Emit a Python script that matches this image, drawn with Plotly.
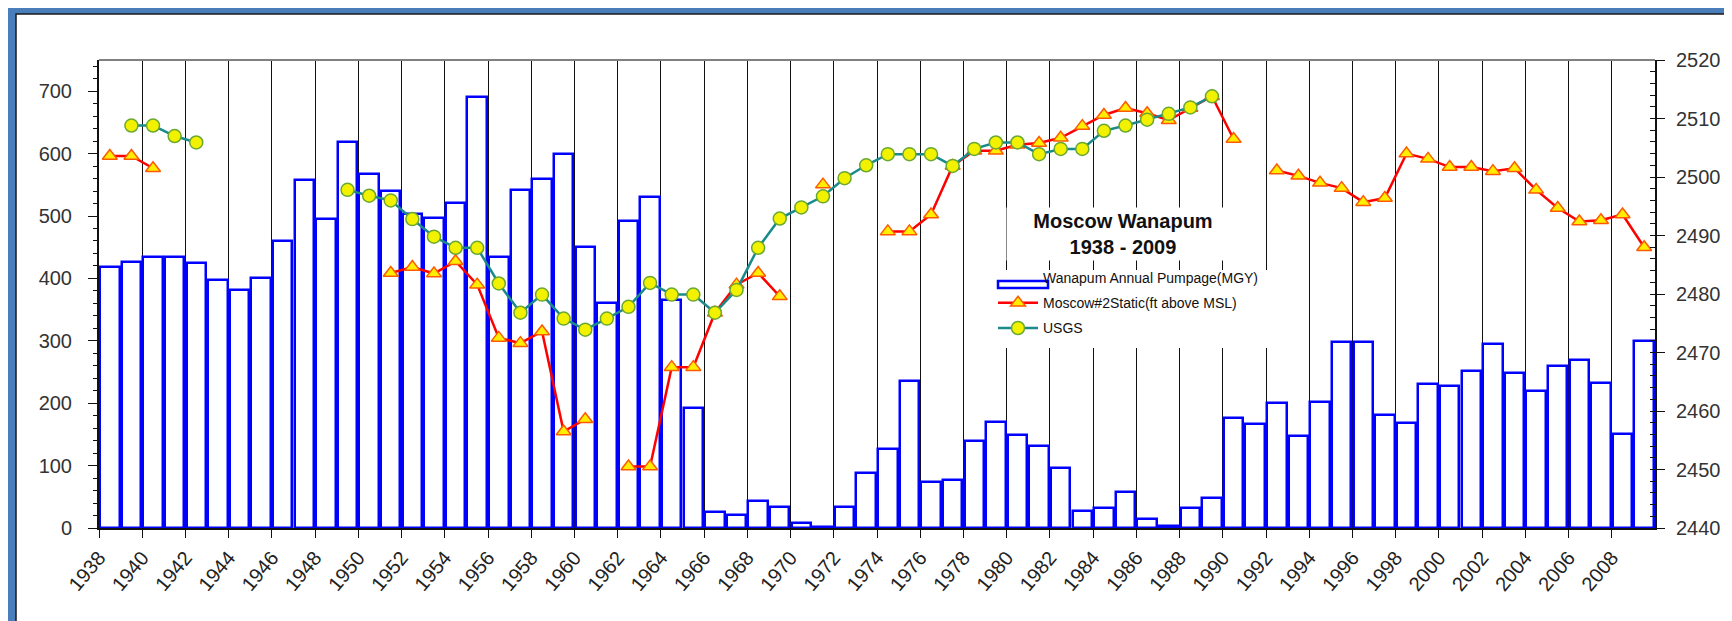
import plotly.graph_objects as go

# ----------- data -----------
years = list(range(1938, 2010))

# Wanapum annual pumpage (MGY), left axis
pumpage = [418, 427, 435, 434, 425, 398, 381, 400, 460, 558,
           495, 619, 567, 540, 503, 497, 521, 690, 435, 542,
           560, 600, 451, 360, 492, 530, 366, 193, 26, 21,
           43, 34, 8, 2, 34, 88, 127, 236, 74, 77,
           139, 170, 149, 131, 96, 28, 32, 57, 15, 4,
           32, 48, 176, 166, 200, 147, 202, 298, 298, 181,
           169, 230, 227, 252, 295, 249, 219, 260, 269, 232,
           151, 299]

# Moscow #2 static level (ft above MSL), right axis
moscow_static = [2503.6, 2503.6, 2501.5, None, None, None, None, None, None, None,
                 None, None, None, 2483.6, 2484.6, 2483.5, 2485.6, 2481.6, 2472.5, 2471.6,
                 2473.6, 2456.5, 2458.6, None, 2450.5, 2450.5, 2467.5, 2467.5, 2476.8, 2481.6,
                 2483.6, 2479.6, None, 2498.7, None, None, 2490.7, 2490.7, 2493.6, 2501.9,
                 2504.5, 2504.5, 2505.5, 2505.8, 2506.7, 2508.7, 2510.6, 2511.8, 2510.9, 2509.7,
                 2511.8, 2513.8, 2506.5, None, 2501.1, 2500.2, 2499.0, 2498.1, 2495.7, 2496.4,
                 2504.0, 2503.1, 2501.7, 2501.7, 2501.0, 2501.5, 2497.8, 2494.7, 2492.4, 2492.6,
                 2493.6, 2488.0]

# USGS level, right axis
usgs = [None, 2508.8, 2508.8, 2507.0, 2505.9, None, None, None, None, None,
        None, 2497.8, 2496.8, 2496.0, 2492.8, 2489.8, 2487.9, 2487.9, 2481.8, 2476.8,
        2479.9, 2475.8, 2473.9, 2475.8, 2477.8, 2481.9, 2479.9, 2479.9, 2476.8, 2480.7,
        2487.9, 2492.9, 2494.8, 2496.7, 2499.8, 2502.0, 2503.9, 2503.9, 2503.9, 2501.9,
        2504.8, 2505.9, 2505.9, 2503.9, 2504.8, 2504.8, 2507.9, 2508.8, 2509.8, 2510.8,
        2511.9, 2513.8, None, None, None, None, None, None, None, None,
        None, None, None, None, None, None, None, None, None, None,
        None, None]

tick_years = years[::2]
tick_labels = [str(y) for y in tick_years]

# bars sit between the year ticks
xc = [y + 0.5 for y in years]

# plot area in pixels
W, H = 1732, 621
L, R, T, B = 91, 85, 52, 101
pw, ph = W - L - R, H - T - B


def px(x):
    return (x - L) / pw


def py(y):
    return (H - B - y) / ph


fig = go.Figure()
fig.add_trace(go.Bar(x=xc, y=pumpage, width=0.9,
                     marker=dict(color='white', line=dict(color='#0000ff', width=2.5)),
                     name='Wanapum Annual Pumpage(MGY)', showlegend=False))
# legend entry for the bars (icon drawn as a shape below)
fig.add_trace(go.Scatter(x=[None], y=[None], mode='lines',
                         line=dict(color='rgba(0,0,0,0)', width=1),
                         name='Wanapum Annual Pumpage(MGY)', legendgroup='a'))
fig.add_trace(go.Scatter(x=xc, y=moscow_static, yaxis='y2', mode='lines+markers',
                         line=dict(color='#ff0000', width=2.5),
                         marker=dict(symbol='triangle-up', size=13, color='#ffee00',
                                     line=dict(color='#ff5a00', width=1.5)),
                         name='Moscow#2Static(ft above MSL)', legendgroup='b'))
fig.add_trace(go.Scatter(x=xc, y=usgs, yaxis='y2', mode='lines+markers',
                         line=dict(color='#1a8a8a', width=2.5),
                         marker=dict(symbol='circle', size=13, color='#f2f200',
                                     line=dict(color='#6aa832', width=1.5)),
                         name='USGS', legendgroup='c'))

fig.update_layout(
    width=W, height=H,
    margin=dict(l=L, r=R, t=T, b=B),
    paper_bgcolor='#4a7ebb', plot_bgcolor='white',
    font=dict(family='Liberation Sans, Arial, sans-serif', size=18, color='#222'),
    bargap=0,
    showlegend=True,
    legend=dict(x=px(985), y=py(254), xanchor='left', yanchor='top',
                bgcolor='rgba(0,0,0,0)', font=dict(size=14, color='#111'),
                tracegroupgap=4, itemwidth=40),
    xaxis=dict(range=[1938, 2010], tickvals=tick_years, ticktext=tick_labels,
               tickangle=-50, ticks='outside', ticklen=8, tickcolor='#111',
               showgrid=True, gridcolor='#111', gridwidth=1,
               showline=True, linecolor='#111', linewidth=2, zeroline=False,
               tickfont=dict(size=20, color='#222')),
    yaxis=dict(range=[0, 750], tickvals=[0, 100, 200, 300, 400, 500, 600, 700],
               ticks='outside', ticklen=9, tickcolor='#111', showgrid=False,
               showline=True, linecolor='#111', linewidth=2, zeroline=False,
               ticklabelstandoff=12,
               minor=dict(dtick=20, ticks='outside', ticklen=4, tickcolor='#111'),
               tickfont=dict(size=20, color='#333')),
    yaxis2=dict(range=[2440, 2520], dtick=10, overlaying='y', side='right',
                ticks='outside', ticklen=8, tickcolor='#111', showgrid=False,
                showline=True, linecolor='#111', linewidth=2, zeroline=False,
                ticklabelstandoff=7,
                minor=dict(dtick=2, ticks='inside', ticklen=5, tickcolor='#111'),
                tickfont=dict(size=20, color='#333')),
)

# white chart frame on blue background
fig.add_shape(type='rect', xref='paper', yref='paper', layer='below',
              x0=px(8), x1=px(1724), y0=py(640), y1=py(6),
              fillcolor='white', line=dict(color='#1a1a1a', width=1.5))
# gray top border of the plot area
fig.add_shape(type='line', xref='paper', yref='paper', x0=0, x1=1, y0=1, y1=1,
              line=dict(color='#808080', width=2))
# white legend box over the gridlines
fig.add_shape(type='rect', xref='paper', yref='paper', layer='above',
              x0=px(984), x1=px(1265), y0=py(340), y1=py(262),
              fillcolor='white', line=dict(width=0))
# flat rectangle legend icon for the bars
fig.add_shape(type='rect', xref='paper', yref='paper', layer='above',
              x0=px(990), x1=px(1040), y0=py(280), y1=py(273),
              fillcolor='white', line=dict(color='#0000ff', width=2.5))

fig.add_annotation(xref='paper', yref='paper', x=px(1115), y=py(226),
                   text='<b>Moscow Wanapum</b><br><b>1938 - 2009</b>',
                   showarrow=False, bgcolor='white', width=230, height=50,
                   font=dict(size=20, color='#111'))

fig.write_html('out.html')
